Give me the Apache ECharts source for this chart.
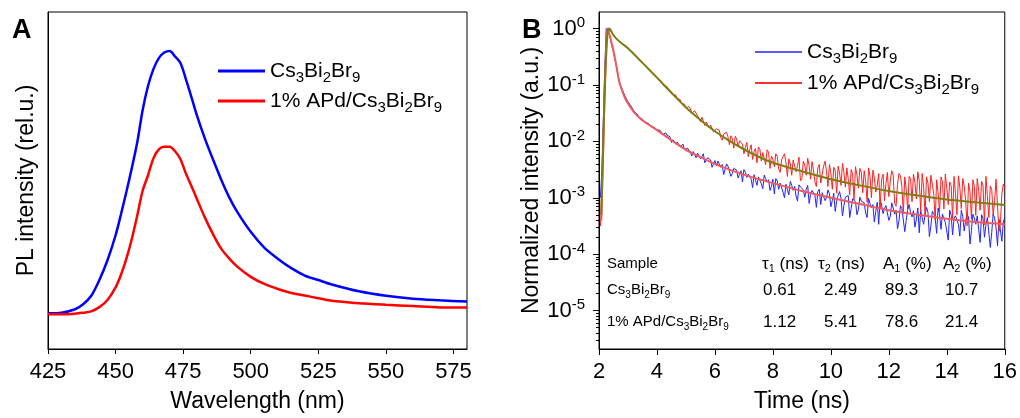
<!DOCTYPE html>
<html><head><meta charset="utf-8">
<script src="https://cdn.jsdelivr.net/npm/echarts@6/dist/echarts.min.js"></script>
<style>html,body{margin:0;padding:0;background:#fff}#c{width:1020px;height:418px}</style>
</head><body><div id="c"></div>
<script>
const FONT = "'Liberation Sans', Arial, sans-serif";

// ---------- Panel A : PL spectra (normalised to pristine peak) ----------
const wavelength = [425,430,435,438,441,444,447,450,452,454,456,458,460,462,464,466,468,470,472,474,476,478,480,483,486,489,492,495,500,505,510,515,520,525,530,540,550,560,570,580];
const plPristine = [0.004,0.006,0.019,0.038,0.070,0.130,0.205,0.300,0.380,0.465,0.555,0.652,0.775,0.867,0.931,0.973,0.994,1.000,0.979,0.954,0.893,0.827,0.758,0.668,0.589,0.513,0.445,0.389,0.313,0.253,0.211,0.175,0.147,0.130,0.113,0.087,0.070,0.059,0.053,0.048];
const plAPd = [0.000,0.000,0.002,0.006,0.011,0.027,0.054,0.102,0.150,0.211,0.286,0.374,0.469,0.528,0.592,0.626,0.636,0.636,0.619,0.589,0.535,0.488,0.440,0.368,0.305,0.250,0.212,0.181,0.142,0.115,0.096,0.081,0.071,0.061,0.051,0.042,0.036,0.031,0.026,0.026];

// ---------- Panel B : TRPL decays (read as log10 of normalised intensity) ----------
const timeData = [2.05,2.10,2.15,2.20,2.25,2.30,2.35,2.40,2.45,2.50,2.55,2.60,2.65,2.70,2.75,2.80,2.90,
 3.0,3.1,3.2,3.3,3.4,3.5,3.6,3.7,3.8,3.9,
 4.0,4.05,4.1,4.15,4.2,4.25,4.3,4.35,4.4,4.45,4.5,4.55,4.6,4.65,4.7,4.75,4.8,4.85,4.9,4.95,
 5.0,5.05,5.1,5.15,5.2,5.25,5.3,5.35,5.4,5.45,5.5,5.55,5.6,5.65,5.7,5.75,5.8,5.85,5.9,5.95,
 6.0,6.05,6.1,6.15,6.2,6.25,6.3,6.35,6.4,6.45,6.5,6.55,6.6,6.65,6.7,6.75,6.8,6.85,6.9,6.95,
 7.0,7.05,7.1,7.15,7.2,7.25,7.3,7.35,7.4,7.45,7.5,7.55,7.6,7.65,7.7,7.75,7.8,7.85,7.9,7.95,
 8.0,8.05,8.1,8.15,8.2,8.25,8.3,8.35,8.4,8.45,8.5,8.55,8.6,8.65,8.7,8.75,8.8,8.85,8.9,8.95,
 9.0,9.05,9.1,9.15,9.2,9.25,9.3,9.35,9.4,9.45,9.5,9.55,9.6,9.65,9.7,9.75,9.8,9.85,9.9,9.95,
 10.0,10.05,10.1,10.15,10.2,10.25,10.3,10.35,10.4,10.45,10.5,10.55,10.6,10.65,10.7,10.75,10.8,10.85,10.9,10.95,
 11.0,11.05,11.1,11.15,11.2,11.25,11.3,11.35,11.4,11.45,11.5,11.55,11.6,11.65,11.7,11.75,11.8,11.85,11.9,11.95,
 12.0,12.05,12.1,12.15,12.2,12.25,12.3,12.35,12.4,12.45,12.5,12.55,12.6,12.65,12.7,12.75,12.8,12.85,12.9,12.95,
 13.0,13.05,13.1,13.15,13.2,13.25,13.3,13.35,13.4,13.45,13.5,13.55,13.6,13.65,13.7,13.75,13.8,13.85,13.9,13.95,
 14.0,14.05,14.1,14.15,14.2,14.25,14.3,14.35,14.4,14.45,14.5,14.55,14.6,14.65,14.7,14.75,14.8,14.85,14.9,14.95,
 15.0,15.05,15.1,15.15,15.2,15.25,15.3,15.35,15.4,15.45,15.5,15.55,15.6,15.65,15.7,15.75,15.8,15.85,15.9,15.95,
 16.0];
const decayPristineLog10 = [-3.0,-2.5,-1.6,-0.7,0.0,0.01,-0.08,-0.2,-0.32,-0.42,-0.55,-0.68,-0.82,-0.93,-1.02,-1.08,-1.2,
 -1.30,-1.37,-1.46,-1.51,-1.58,-1.61,-1.66,-1.68,-1.74,-1.75,
 -1.80,-1.83,-1.80,-1.82,-1.88,-1.90,-1.85,-1.89,-1.91,-1.92,-2.02,-1.97,-1.96,-2.05,-2.01,-2.03,-2.10,-2.07,-2.05,-2.15,
 -2.13,-2.12,-2.13,-2.19,-2.26,-2.18,-2.17,-2.29,-2.21,-2.22,-2.31,-2.27,-2.22,-2.38,-2.33,-2.29,-2.30,-2.33,-2.46,-2.40,
 -2.34,-2.43,-2.35,-2.37,-2.46,-2.41,-2.59,-2.50,-2.40,-2.44,-2.46,-2.62,-2.57,-2.48,-2.47,-2.51,-2.65,-2.58,-2.52,-2.72,
 -2.50,-2.55,-2.64,-2.58,-2.56,-2.67,-2.82,-2.59,-2.57,-2.78,-2.63,-2.62,-2.75,-2.84,-2.60,-2.66,-2.72,-2.68,-2.87,-2.80,
 -2.67,-2.93,-2.66,-2.70,-2.85,-2.74,-2.73,-2.90,-3.00,-2.76,-2.73,-2.95,-2.71,-2.78,-2.87,-2.80,-2.97,-3.06,-2.77,-2.81,
 -2.84,-2.86,-2.99,-2.85,-2.78,-3.10,-2.94,-2.87,-2.85,-2.96,-3.17,-2.89,-2.85,-3.12,-2.91,-2.90,-3.05,-3.00,-2.86,-2.93,
 -3.16,-3.05,-2.92,-3.24,-3.06,-2.96,-2.89,-3.01,-3.32,-3.14,-2.99,-3.00,-2.96,-3.35,-3.19,-3.02,-3.03,-3.07,-3.30,-3.21,
 -2.99,-3.06,-3.04,-3.09,-3.27,-3.35,-3.01,-3.10,-3.18,-3.12,-3.43,-3.24,-3.08,-3.47,-3.04,-3.13,-3.28,-3.19,-3.14,-3.16,
 -3.40,-3.33,-3.09,-3.18,-3.29,-3.22,-3.55,-3.41,-3.14,-3.19,-3.20,-3.60,-3.40,-3.22,-3.12,-3.26,-3.34,-3.23,-3.52,-3.38,
 -3.18,-3.62,-3.23,-3.25,-3.47,-3.30,-3.17,-3.26,-3.69,-3.50,-3.24,-3.28,-3.37,-3.63,-3.18,-3.30,-3.56,-3.29,-3.27,-3.44,
 -3.47,-3.75,-3.22,-3.31,-3.66,-3.36,-3.32,-3.30,-3.47,-3.68,-3.22,-3.33,-3.59,-3.40,-3.30,-3.34,-3.82,-3.58,-3.29,-3.36,
 -3.47,-3.32,-3.56,-3.79,-3.30,-3.37,-3.70,-3.48,-3.35,-3.34,-3.88,-3.62,-3.29,-3.36,-3.54,-3.85,-3.38,-3.38,-3.77,-3.43,
 -3.35];
const decayAPdLog10 = [-3.5,-2.8,-1.9,-1.0,-0.35,-0.02,0.0,-0.05,-0.08,-0.11,-0.14,-0.18,-0.2,-0.23,-0.25,-0.27,-0.31,
 -0.35,-0.40,-0.45,-0.50,-0.56,-0.61,-0.66,-0.71,-0.76,-0.82,
 -0.87,-0.91,-0.89,-0.93,-0.98,-1.02,-0.99,-1.03,-1.07,-1.10,-1.13,-1.17,-1.14,-1.18,-1.24,-1.23,-1.26,-1.33,-1.32,-1.34,
 -1.41,-1.44,-1.38,-1.42,-1.50,-1.53,-1.46,-1.50,-1.55,-1.59,-1.65,-1.57,-1.58,-1.72,-1.66,-1.66,-1.76,-1.71,-1.69,-1.83,
 -1.82,-1.78,-1.75,-1.80,-1.93,-1.98,-1.87,-1.86,-1.84,-1.92,-2.06,-1.90,-1.95,-2.12,-1.91,-1.96,-2.10,-1.99,-2.02,-2.05,
 -2.22,-2.11,-2.02,-2.27,-2.15,-2.06,-2.32,-2.18,-2.13,-2.38,-2.10,-2.14,-2.35,-2.20,-2.23,-2.41,-2.15,-2.19,-2.48,-2.26,
 -2.32,-2.45,-2.22,-2.27,-2.49,-2.55,-2.33,-2.27,-2.22,-2.38,-2.62,-2.31,-2.40,-2.60,-2.33,-2.36,-2.54,-2.43,-2.28,-2.70,
 -2.66,-2.35,-2.42,-2.60,-2.30,-2.43,-2.67,-2.36,-2.51,-2.72,-2.80,-2.47,-2.41,-2.74,-2.58,-2.44,-2.35,-2.54,-2.80,-2.41,
 -2.56,-2.85,-2.46,-2.52,-2.92,-2.44,-2.56,-2.78,-2.39,-2.55,-2.81,-2.47,-2.67,-2.95,-2.50,-2.58,-3.04,-2.45,-2.60,-2.83,
 -2.48,-2.55,-2.91,-2.52,-2.70,-3.08,-2.47,-2.62,-3.00,-2.51,-2.64,-2.90,-2.78,-2.57,-3.18,-2.68,-2.58,-3.05,-2.75,-2.55,
 -2.98,-2.71,-2.52,-2.60,-3.10,-3.15,-2.76,-2.57,-2.61,-2.80,-3.28,-2.63,-2.85,-3.20,-2.62,-2.66,-3.07,-2.58,-2.73,-3.02,
 -2.54,-2.70,-3.25,-2.57,-2.81,-3.30,-2.63,-2.74,-3.07,-2.60,-2.76,-2.93,-3.40,-2.68,-2.91,-3.25,-2.63,-2.72,-3.20,-2.58,
 -2.83,-3.12,-2.72,-2.78,-3.37,-2.62,-2.93,-3.30,-2.61,-2.82,-3.19,-2.66,-2.79,-3.05,-3.50,-2.74,-2.89,-3.38,-2.68,-2.80,
 -3.31,-2.66,-2.87,-3.22,-2.71,-2.78,-3.48,-2.62,-2.96,-3.35,-2.79,-2.85,-3.31,-3.05,-2.67,-2.70,-3.60,-3.45,-2.93,-2.76,
 -2.83];
const fitPristineTime = [2.08,2.15,2.22,2.30,2.4,2.5,2.6,2.7,2.8,2.9,3.0,3.25,3.5,4.0,4.5,5,5.5,6,6.5,7,7.5,8,9,10,11,12,13,14,15,16];
const fitPristineLog10 = [-3.4,-2.0,-0.7,0.0,-0.18,-0.40,-0.66,-0.95,-1.1,-1.24,-1.33,-1.51,-1.63,-1.80,-1.98,-2.15,-2.28,-2.40,-2.50,-2.59,-2.67,-2.74,-2.88,-3.0,-3.11,-3.22,-3.30,-3.37,-3.43,-3.47];
const fitAPdTime = [2.08,2.15,2.22,2.30,2.35,2.5,2.6,2.75,3.0,3.5,4.0,4.5,5,5.5,6,6.5,7,7.5,8,9,10,11,12,13,14,15,16];
const fitAPdLog10 = [-3.3,-2.0,-0.8,-0.05,0.0,-0.12,-0.18,-0.25,-0.35,-0.61,-0.87,-1.14,-1.40,-1.62,-1.82,-1.99,-2.14,-2.27,-2.38,-2.53,-2.67,-2.78,-2.88,-2.96,-3.03,-3.08,-3.13];
const yDecades = [1e-5,1e-4,1e-3,1e-2,1e-1,1];

// ---------- Fit table ----------
const tableHeader = ['Sample','τ{s|1} (ns)','τ{s|2} (ns)','A{s|1} (%)','A{s|2} (%)'];
const tableSamples = ['Cs{s|3}Bi{s|2}Br{s|9}','1% APd/Cs{s|3}Bi{s|2}Br{s|9}'];
const tau1 = ['0.61','1.12'];
const tau2 = ['2.49','5.41'];
const amp1 = ['89.3','78.6'];
const amp2 = ['10.7','21.4'];

const NAME_P = 'Cs3Bi2Br9', NAME_A = '1% APd/Cs3Bi2Br9';
const legendFmt = n => n === NAME_P ? 'Cs{s|3}Bi{s|2}Br{s|9}' : '1% APd/Cs{s|3}Bi{s|2}Br{s|9}';

const YMIN = 2.09e-6, YMAX = 1.96;
const minorVals = [];
[-6,-5,-4,-3,-2,-1,0].forEach(e => { for (let k = 2; k <= 9; k++) { const v = k * Math.pow(10, e); if (v > YMIN && v < YMAX) minorVals.push(v); } });

const pairs = (xs, ys) => xs.map((x, i) => [x, ys[i]]);
const pairsLog = (xs, ls) => xs.map((x, i) => [x, Math.pow(10, ls[i])]);

const legendText = {
  fontFamily: FONT, fontSize: 21, color: '#000', lineHeight: 28,
  rich: { s: { fontFamily: FONT, fontSize: 15, lineHeight: 11, verticalAlign: 'bottom', color: '#000' } }
};
const axisNameStyle = { fontFamily: FONT, fontSize: 23, color: '#000' };
const tickLabel = { fontFamily: FONT, fontSize: 22, color: '#000' };

const chart = echarts.init(document.getElementById('c'), null, { renderer: 'canvas' });

const graphics = [
  { type: 'text', style: { x: 12, y: 31, text: 'A', fontFamily: FONT, fontWeight: 'bold', fontSize: 27, fill: '#000', verticalAlign: 'middle' } },
  { type: 'text', style: { x: 522, y: 31, text: 'B', fontFamily: FONT, fontWeight: 'bold', fontSize: 27, fill: '#000', verticalAlign: 'middle' } }
];
const hdrX = [607, 762, 818, 883, 943];
const valX = [607, 763, 824, 885, 945];
const rowY = [264, 290, 322];
const subRich = (fs) => ({ s: { fontFamily: FONT, fontSize: fs, lineHeight: 8, verticalAlign: 'bottom', fill: '#000' } });
tableHeader.forEach((t, i) => {
  const fs = i === 0 ? 15 : 17;
  graphics.push({ type: 'text', style: { x: hdrX[i], y: rowY[0], text: t, fontFamily: FONT, fontSize: fs, lineHeight: 21, fill: '#000', verticalAlign: 'middle', rich: subRich(11) } });
});
tableSamples.forEach((s, r) => {
  const cells = [s, tau1[r], tau2[r], amp1[r], amp2[r]];
  cells.forEach((t, i) => {
    const fs = i === 0 ? 15 : 17;
    graphics.push({ type: 'text', style: { x: valX[i], y: rowY[r + 1], text: t, fontFamily: FONT, fontSize: fs, lineHeight: 20, fill: '#000', verticalAlign: 'middle', rich: subRich(10) } });
  });
});

const option = {
  animation: false,
  backgroundColor: '#fff',
  grid: [
    { left: 48, top: 12, width: 419, height: 339, show: true, borderColor: '#000', borderWidth: 1, backgroundColor: 'transparent' },
    { left: 599, top: 12, width: 406, height: 339, show: true, borderColor: '#000', borderWidth: 1, backgroundColor: 'transparent' }
  ],
  legend: [
    { orient: 'vertical', left: 218, top: 57, padding: 0, itemGap: 2, itemWidth: 47, itemHeight: 3, icon: 'rect',
      data: [NAME_P, NAME_A], formatter: legendFmt, textStyle: legendText, selectedMode: false },
    { orient: 'vertical', left: 755, top: 38, padding: 0, itemGap: 3, itemWidth: 47, itemHeight: 2, icon: 'rect',
      data: [NAME_P + ' ', NAME_A + ' '], formatter: n => legendFmt(n.trim()), textStyle: legendText, selectedMode: false }
  ],
  xAxis: [
    { type: 'value', gridIndex: 0, min: 425, max: 580, interval: 25,
      name: 'Wavelength (nm)', nameLocation: 'middle', nameGap: 41, nameTextStyle: axisNameStyle,
      axisLine: { show: true, onZero: false, lineStyle: { color: '#000', width: 1 } },
      axisTick: { show: true, inside: false, length: 5, lineStyle: { color: '#000' } },
      axisLabel: Object.assign({ margin: 12, showMaxLabel: false }, tickLabel),
      splitLine: { show: false } },
    { type: 'value', gridIndex: 1, min: 2, max: 16, interval: 2,
      name: 'Time (ns)', nameLocation: 'middle', nameGap: 41, nameTextStyle: axisNameStyle,
      axisLine: { show: true, onZero: false, lineStyle: { color: '#000', width: 1 } },
      axisTick: { show: true, inside: false, length: 6, lineStyle: { color: '#000' } },
      axisLabel: Object.assign({ margin: 12 }, tickLabel),
      splitLine: { show: false } }
  ],
  yAxis: [
    { type: 'value', gridIndex: 0, min: -0.132, max: 1.148,
      name: 'PL intensity (rel.u.)', nameLocation: 'middle', nameGap: 10, nameTextStyle: axisNameStyle,
      axisLine: { show: true, onZero: false, lineStyle: { color: '#000' } },
      axisTick: { show: false }, axisLabel: { show: false }, splitLine: { show: false } },
    { type: 'log', logBase: 10, gridIndex: 1, min: YMIN, max: YMAX, position: 'left',
      name: 'Normalized intensity (a.u.)', nameLocation: 'middle', nameGap: 56, nameTextStyle: axisNameStyle,
      axisLine: { show: true, onZero: false, lineStyle: { color: '#000' } },
      axisTick: { show: true, inside: false, length: 6, customValues: yDecades, lineStyle: { color: '#000' } },
      axisLabel: { customValues: yDecades, margin: 14, fontFamily: FONT, fontSize: 22, color: '#000', lineHeight: 26,
        formatter: v => { const e = Math.round(Math.log10(v)); if (Math.abs(Math.log10(v) - e) > 1e-6) return ''; return '10{sup|' + e + '}'; },
        rich: { sup: { fontFamily: FONT, fontSize: 15, lineHeight: 13, verticalAlign: 'top', color: '#000' } } },
      splitLine: { show: false }, minorTick: { show: false } },
    { type: 'log', logBase: 10, gridIndex: 1, min: YMIN, max: YMAX, position: 'left',
      axisLine: { show: false },
      axisTick: { show: true, inside: false, length: 3, customValues: minorVals, lineStyle: { color: '#000' } },
      axisLabel: { show: false }, splitLine: { show: false } }
  ],
  series: [
    { name: NAME_P, type: 'line', xAxisIndex: 0, yAxisIndex: 0, data: pairs(wavelength, plPristine), showSymbol: false, smooth: 0.3,
      lineStyle: { color: '#0000ff', width: 2.5 }, itemStyle: { color: '#0000ff' } },
    { name: NAME_A, type: 'line', xAxisIndex: 0, yAxisIndex: 0, data: pairs(wavelength, plAPd), showSymbol: false, smooth: 0.3,
      lineStyle: { color: '#ff0000', width: 2.5 }, itemStyle: { color: '#ff0000' } },
    { name: NAME_P + ' ', type: 'line', xAxisIndex: 1, yAxisIndex: 1, data: pairsLog(timeData, decayPristineLog10), showSymbol: false,
      lineStyle: { color: '#2323ff', width: 1 }, itemStyle: { color: '#5a5aff' } },
    { name: NAME_A + ' ', type: 'line', xAxisIndex: 1, yAxisIndex: 1, data: pairsLog(timeData, decayAPdLog10), showSymbol: false,
      lineStyle: { color: '#ff2020', width: 1 }, itemStyle: { color: '#ff3030' } },
    { name: 'fitP', type: 'line', xAxisIndex: 1, yAxisIndex: 1, data: pairsLog(fitPristineTime, fitPristineLog10), showSymbol: false, smooth: 0.3,
      lineStyle: { color: '#f05a5a', width: 2 }, itemStyle: { color: '#f05a5a' } },
    { name: 'fitA', type: 'line', xAxisIndex: 1, yAxisIndex: 1, data: pairsLog(fitAPdTime, fitAPdLog10), showSymbol: false, smooth: 0.3,
      lineStyle: { color: '#7d7d12', width: 2 }, itemStyle: { color: '#7d7d12' } }
  ],
  graphic: graphics
};
chart.setOption(option);
</script></body></html>
